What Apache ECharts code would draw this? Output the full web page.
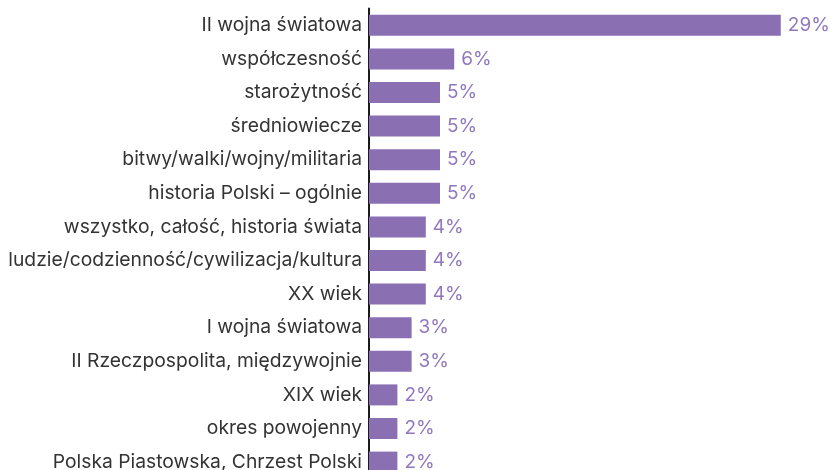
<!DOCTYPE html>
<html>
<head>
<meta charset="utf-8">
<script src="https://cdn.jsdelivr.net/npm/echarts@6/dist/echarts.min.js"></script>
<style>
  html, body { margin: 0; padding: 0; background: #ffffff; }
  #chart { width: 831px; height: 470px; }
</style>
</head>
<body>
<div id="chart"></div>
<script>
// Topics, in display order from top to bottom
const categories = [
  'II wojna światowa',
  'współczesność',
  'starożytność',
  'średniowiecze',
  'bitwy/walki/wojny/militaria',
  'historia Polski – ogólnie',
  'wszystko, całość, historia świata',
  'ludzie/codzienność/cywilizacja/kultura',
  'XX wiek',
  'I wojna światowa',
  'II Rzeczpospolita, międzywojnie',
  'XIX wiek',
  'okres powojenny',
  'Polska Piastowska, Chrzest Polski'
];
// Share of answers, percent
const shares = [29, 6, 5, 5, 5, 5, 4, 4, 4, 3, 3, 2, 2, 2];

const chart = echarts.init(document.getElementById('chart'), null, { renderer: 'canvas' });

chart.setOption({
  animation: false,
  textStyle: { fontFamily: 'Inter, "Noto Sans", sans-serif' },
  grid: {
    left: 369, top: 8.5, width: 426, height: 470.4,
    containLabel: false,
    outerBoundsMode: 'none'
  },
  xAxis: {
    type: 'value',
    min: 0,
    max: 30,
    show: false
  },
  yAxis: {
    type: 'category',
    data: categories,
    inverse: true,
    axisLine: { show: true, lineStyle: { color: '#1a1a1a', width: 2 } },
    axisTick: { show: false },
    axisLabel: { color: '#333333', fontSize: 19.3, margin: 7, fontFamily: 'Inter, "Noto Sans", sans-serif' }
  },
  series: [{
    type: 'bar',
    data: shares,
    barWidth: 21,
    itemStyle: { color: '#8a70b3' },
    label: {
      show: true,
      position: 'right',
      distance: 7,
      color: '#9078bd',
      fontSize: 19,
      formatter: p => p.value + '%'
    }
  }]
});
</script>
</body>
</html>
